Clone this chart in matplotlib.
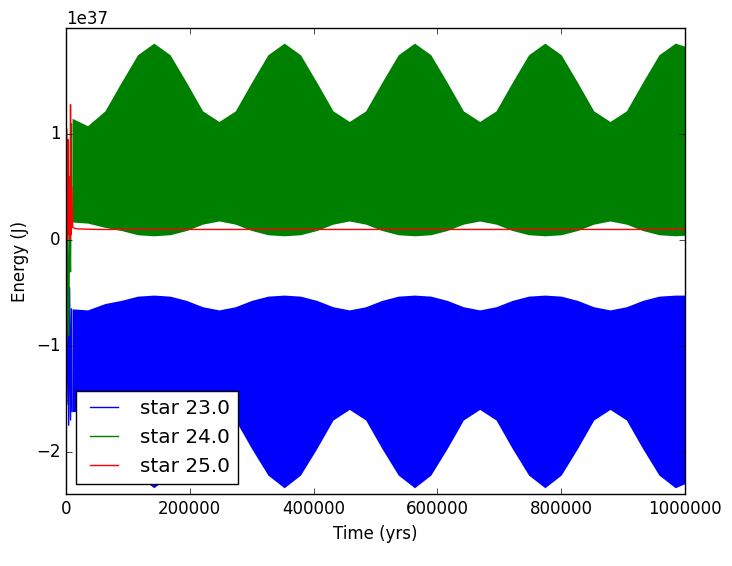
import matplotlib
matplotlib.use("Agg")
import matplotlib.pyplot as plt
from matplotlib.lines import Line2D
import numpy as np

plt.style.use("classic")
S = 1e37

# envelope sample times (yrs)
t_env = [10000, 35000, 63000, 89400, 115700, 142000, 168300, 194600, 220900, 247200, 273600, 299900, 326200,
         352500, 378800, 405100, 431400, 457700, 484100, 510400, 536700, 563000, 589300, 615600, 641900,
         668200, 694600, 720900, 747200, 773500, 799800, 826100, 852400, 878700, 905100, 931400, 957700,
         984000, 1000000]
green_hi = [1.15, 1.08, 1.22, 1.49, 1.75, 1.86, 1.75, 1.49, 1.22, 1.12, 1.22, 1.49, 1.75,
            1.86, 1.75, 1.49, 1.22, 1.12, 1.22, 1.49, 1.75, 1.86, 1.75, 1.49, 1.22,
            1.12, 1.22, 1.49, 1.75, 1.86, 1.75, 1.49, 1.22, 1.12, 1.22, 1.49, 1.75, 1.86, 1.83]
green_lo = [0.17, 0.16, 0.12, 0.09, 0.05, 0.04, 0.05, 0.09, 0.15, 0.18, 0.15, 0.09, 0.05,
            0.04, 0.05, 0.09, 0.15, 0.18, 0.15, 0.09, 0.05, 0.04, 0.05, 0.09, 0.15,
            0.18, 0.15, 0.09, 0.05, 0.04, 0.05, 0.09, 0.15, 0.18, 0.15, 0.09, 0.05, 0.04, 0.045]
blue_hi = [-0.65, -0.66, -0.60, -0.57, -0.53, -0.52, -0.53, -0.57, -0.63, -0.66, -0.63, -0.57, -0.53,
           -0.52, -0.53, -0.57, -0.63, -0.66, -0.63, -0.57, -0.53, -0.52, -0.53, -0.57, -0.63,
           -0.66, -0.63, -0.57, -0.53, -0.52, -0.53, -0.57, -0.63, -0.66, -0.63, -0.57, -0.53, -0.52, -0.52]
blue_lo = [-1.62, -1.62, -1.72, -1.97, -2.22, -2.34, -2.22, -1.97, -1.70, -1.60, -1.70, -1.97, -2.22,
           -2.34, -2.22, -1.97, -1.70, -1.60, -1.70, -1.97, -2.22, -2.34, -2.22, -1.97, -1.70,
           -1.60, -1.70, -1.97, -2.22, -2.34, -2.22, -1.97, -1.70, -1.60, -1.70, -1.97, -2.22, -2.34, -2.30]

# early transients
t_early = [0, 1500, 3000, 4500, 6000, 7500, 9000, 10000]
blue_early = [-0.35, -1.55, -0.40, -1.75, -0.45, -1.70, -0.65, -1.62]
green_early = [0.0, -0.95, 0.05, -0.90, 0.10, -0.30, 1.10, 0.17]
t_red = [0, 1500, 2500, 3500, 4500, 5500, 6500, 7500, 8500, 9500, 11000, 14000, 20000, 50000, 1000000]
red_vals = [0.0, 1.05, 0.0, 0.95, 0.05, 0.60, 0.0, 1.28, 0.05, 0.50, 0.12, 0.11, 0.105, 0.10, 0.10]

fig = plt.figure(figsize=(7.32, 5.66), dpi=100, facecolor="white")
ax = fig.add_axes([0.090, 0.127, 0.846, 0.823])

ax.fill_between(t_env, np.array(blue_lo) * S, np.array(blue_hi) * S, color="b", lw=0)
ax.plot(t_early, np.array(blue_early) * S, color="b")
ax.fill_between(t_env, np.array(green_lo) * S, np.array(green_hi) * S, color="g", lw=0)
ax.plot(t_early, np.array(green_early) * S, color="g")
ax.plot(t_red, np.array(red_vals) * S, color="r")

ax.set_xlim(0, 1000000)
ax.set_ylim(-2.4e37, 2.0e37)
ax.set_yticks([-2e37, -1e37, 0, 1e37])
ax.set_xlabel("Time (yrs)")
ax.set_ylabel("Energy (J)")

handles = [Line2D([], [], color="b"), Line2D([], [], color="g"), Line2D([], [], color="r")]
ax.legend(handles, ["star 23.0", "star 24.0", "star 25.0"], loc="lower left")

fig.savefig("out.png", dpi=100, facecolor="white")
